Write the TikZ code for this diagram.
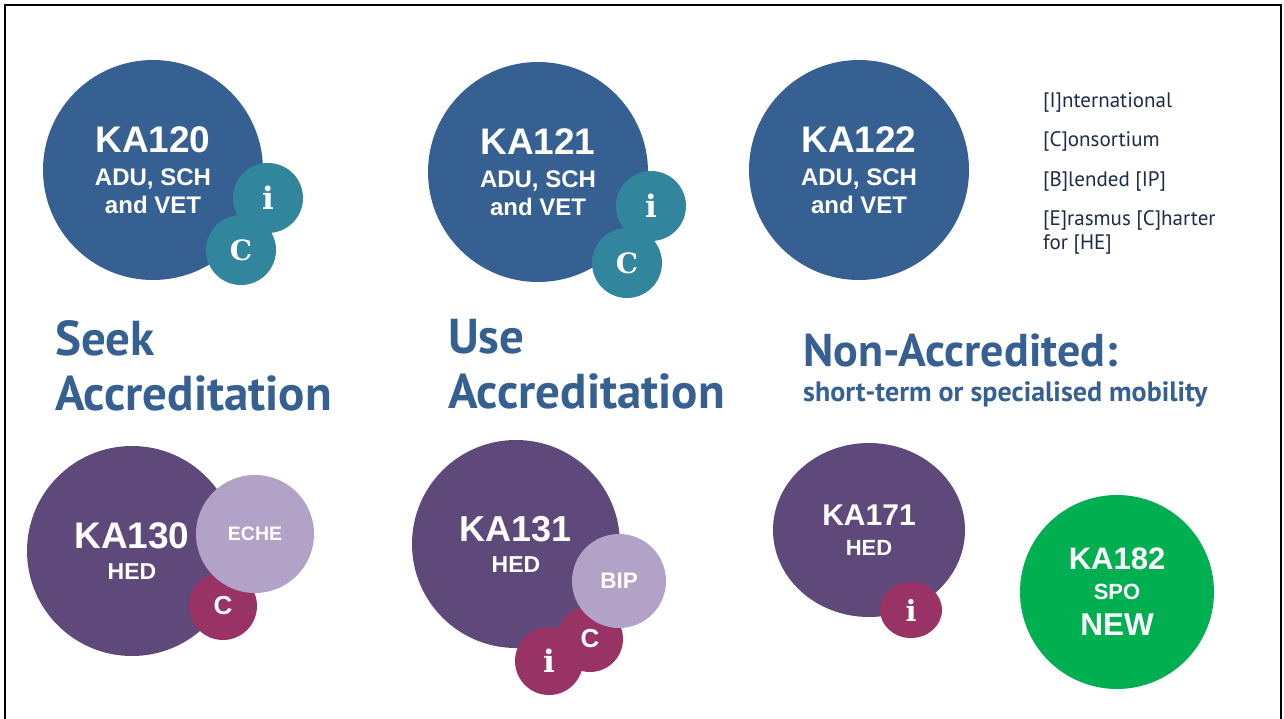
\documentclass[tikz,border=0pt]{standalone}
\usepackage{fontspec}
\setmainfont{Liberation Sans}
\newfontfamily\headfont{PT Sans}
\newfontfamily\slabfont{DejaVu Serif}
\usetikzlibrary{positioning,shapes.geometric}

\definecolor{kablue}{HTML}{376092}
\definecolor{kateal}{HTML}{31859C}
\definecolor{kapurple}{HTML}{5F497A}
\definecolor{kalilac}{HTML}{B3A2C7}
\definecolor{kaplum}{HTML}{993366}
\definecolor{kagreen}{HTML}{00B050}
\definecolor{legendnavy}{HTML}{1D2B48}

\tikzset{
  blob/.style={circle, inner sep=0pt, text=white, align=center, font=\bfseries},
  topblob/.style={blob, fill=kablue, minimum size=220pt, font=\fontsize{24}{28}\selectfont\bfseries},
  tag/.style={blob, minimum size=70pt},
  slabtag/.style={tag, font=\fontsize{31}{31}\selectfont\slabfont\bfseries},
  heading/.style={anchor=base west, inner sep=0pt, text=kablue, align=left, font=\fontsize{49}{55}\selectfont\headfont\bfseries},
  legend/.style={anchor=base west, inner sep=0pt, text=legendnavy, align=left, font=\fontsize{21}{24}\selectfont\headfont}
}

\begin{document}
\begin{tikzpicture}[x=1pt,y=-1pt]
\useasboundingbox (0,0) rectangle (1284,719);
\draw[line width=2pt] (5,730) -- (5,5) -- (1281,5) -- (1281,730);

\node[topblob] (ka120) at (153,170) {{\fontsize{37}{40}\selectfont KA120}\\[5pt]ADU, SCH\\and VET};
\node[slabtag, fill=kateal] (ka120c) at (241,250) {\fontsize{28}{28}\selectfont C};
\node[slabtag, fill=kateal] (ka120i) at (268,198) {i};

\node[topblob] (ka121) at (538,172) {{\fontsize{37}{40}\selectfont KA121}\\[5pt]ADU, SCH\\and VET};
\node[slabtag, fill=kateal] (ka121c) at (627,263) {\fontsize{28}{28}\selectfont C};
\node[slabtag, fill=kateal] (ka121i) at (651,206) {i};

\node[topblob] (ka122) at (859,170) {{\fontsize{37}{40}\selectfont KA122}\\[5pt]ADU, SCH\\and VET};

\node[legend] (intl) at (1043,108) {[I]nternational};
\node[legend] (cons) at (1043,147) {[C]onsortium};
\node[legend] (blend) at (1043,187) {[B]lended [IP]};
\node[legend] (eche) at (1043,250) {[E]rasmus [C]harter\\for [HE]};

\node[heading] (seek) at (55,410) {Seek\\Accreditation};
\node[heading] (use) at (448,408) {Use\\Accreditation};
\node[heading, font=\fontsize{46}{46}\selectfont\headfont\bfseries] (nonacc) at (803,366) {Non-Accredited:};
\node[heading, font=\fontsize{28}{28}\selectfont\headfont\bfseries] (shortterm) at (803,401) {short-term or specialised mobility};

\node[blob, fill=kapurple, minimum size=210pt, font=\fontsize{23}{31}\selectfont\bfseries] (ka130) at (132,551) {{\fontsize{37}{40}\selectfont KA130}\\HED};
\node[tag, fill=kaplum, minimum size=68pt, font=\fontsize{26}{26}\selectfont\bfseries] (ka130c) at (223,606) {C};
\node[blob, fill=kalilac, minimum size=118pt, font=\fontsize{19.5}{20}\selectfont\bfseries] (ka130e) at (255,534) {ECHE};

\node[blob, fill=kapurple, minimum size=208pt, font=\fontsize{23}{31}\selectfont\bfseries] (ka131) at (516,544) {{\fontsize{36}{40}\selectfont KA131}\\HED};
\node[slabtag, fill=kaplum, minimum size=68pt] (ka131i) at (549,661) {i};
\node[tag, fill=kaplum, minimum size=66pt, font=\fontsize{26}{26}\selectfont\bfseries] (ka131c) at (590,639) {C};
\node[blob, fill=kalilac, minimum size=94pt, font=\fontsize{22.5}{23}\selectfont\bfseries] (ka131b) at (619,581) {BIP};

\node[ellipse, inner sep=0pt, fill=kapurple, text=white, align=center, minimum width=192pt, minimum height=174pt, font=\fontsize{22}{30}\selectfont\bfseries] (ka171) at (869,530) {{\fontsize{30}{32}\selectfont KA171}\\HED};
\node[ellipse, inner sep=0pt, fill=kaplum, text=white, minimum width=62pt, minimum height=56pt, font=\fontsize{29}{29}\selectfont\slabfont\bfseries] (ka171i) at (911,610) {i};

\node[blob, fill=kagreen, minimum size=194pt, font=\fontsize{22}{30}\selectfont\bfseries] (ka182) at (1117,592) {{\fontsize{31}{32}\selectfont KA182}\\SPO\\[6pt]{\fontsize{31.5}{32}\selectfont NEW}};
\end{tikzpicture}
\end{document}
